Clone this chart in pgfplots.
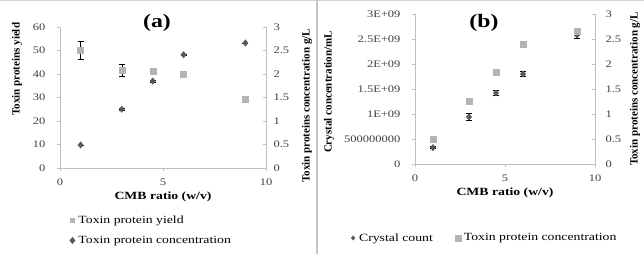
\documentclass[border=0pt]{standalone}
\usepackage{pgfplots}
\pgfplotsset{compat=1.18}
\usepackage{fontspec}
\setmainfont{Liberation Serif}[FakeStretch=1.25]
\newfontfamily\rotfont{Liberation Serif}
\definecolor{sqgray}{HTML}{B4B4B4}
\definecolor{dkgray}{HTML}{595959}
\definecolor{axgray}{HTML}{BFBFBF}
\begin{document}
\begin{tikzpicture}
\path[use as bounding box] (0pt,0pt) rectangle (644pt,254pt);
\draw[gray!35, line width=1pt] (0pt,253pt) -- (644pt,253pt);
\draw[gray!45, line width=2pt] (317pt,0pt) -- (317pt,254pt);
\pgfplotsset{
  common/.style={scale only axis, xmin=0, xmax=10, xtick={0,5,10},
    axis line style={draw=axgray,-}, tick style={draw=axgray},
    major tick length=3pt,
    tick label style={font=\fontsize{10}{12}\selectfont, text=black!75},
    /pgf/number format/assume math mode=true, clip=false,
    label style={font=\bfseries\fontsize{11}{13}\selectfont},
    legend image code/.code={\path[draw=none, fill=none] (0cm,-0.05cm) rectangle (0.32cm,0.05cm);
      \draw[mark repeat=2,mark phase=2] plot coordinates {(0cm,0cm) (0.18cm,0cm) (0.36cm,0cm)};},
    legend style={draw=none, fill=none, font=\fontsize{11}{13}\selectfont, legend cell align=left},
  },
  sq/.style={only marks, mark=square*, color=sqgray, mark size=3pt},
  dk/.style={only marks, mark=diamond*, color=dkgray, mark size=3.2pt, mark options={xscale=1.1}},
  eb/.style={error bars/.cd, y dir=both, y explicit,
    error bar style={black, line width=0.5pt},
    error mark options={black, rotate=90, mark size=3pt, line width=0.5pt}},
}
% ---------------- Panel (a) ----------------
\begin{axis}[common, at={(60pt,86pt)}, anchor=south west, width=206pt, height=141pt,
  ymin=0, ymax=60, ytick={0,10,...,60},
  axis x line*=bottom, axis y line*=left, tick align=outside,
  xlabel={CMB ratio (w/v)}, xlabel style={at={(rel axis cs:0.5,-0.206)}, anchor=center},
  ylabel={\rotfont\bfseries Toxin proteins yield},
  ylabel style={at={(rel axis cs:-0.209,0.70)}, anchor=center},
  xticklabel style={yshift=-4pt}, yticklabel style={xshift=-8pt}]
\addplot[sq, eb] table[x=x, y=y, y error=e] {
x y e
1 50.0 3.9
3 41.5 2.5
4.5 41.0 0
6 40.0 0
9 29.4 0
};
\end{axis}
\begin{axis}[common, at={(60pt,86pt)}, anchor=south west, width=206pt, height=141pt,
  ymin=0, ymax=3, ytick={0,0.5,...,3}, yticklabels={0,0.5,1,1.5,2,2.5,3},
  axis x line=none, axis y line*=right, tick align=inside,
  ylabel={\rotfont\bfseries Toxin proteins concentration g/L},
  ylabel style={at={(rel axis cs:1.199,0.44)}, anchor=center},
  yticklabel style={xshift=4pt},
  legend style={at={(rel axis cs:0.02,-0.31)}, anchor=north west, row sep=7pt}]
\addlegendimage{sq, mark size=2pt}
\addlegendentry{Toxin protein yield}
\addplot[dk, eb] table[x=x, y=y, y error=e] {
x y e
1 0.49 0
3 1.25 0.03
4.5 1.85 0.02
6 2.41 0.02
9 2.66 0
};
\addlegendentry{Toxin protein concentration}
\end{axis}
% ---------------- Panel (b) ----------------
\begin{axis}[common, at={(415pt,90pt)}, anchor=south west, width=180pt, height=150pt,
  ymin=0, ymax=3e9, ytick={0,5e8,1e9,1.5e9,2e9,2.5e9,3e9},
  yticklabels={0,500000000,1E+09,1.5E+09,2E+09,2.5E+09,3E+09}, scaled y ticks=false,
  axis x line*=bottom, axis y line*=left, tick align=outside,
  xlabel={CMB ratio (w/v)}, xlabel style={at={(rel axis cs:0.5,-0.193)}, anchor=center},
  ylabel={\rotfont\bfseries Crystal concentration/mL},
  ylabel style={at={(rel axis cs:-0.478,0.48)}, anchor=center},
  xticklabel style={yshift=-4pt}, yticklabel style={xshift=-8pt}]
\addplot[dk, eb] table[x=x, y=y, y error=e] {
x y e
1 3.27e8 2e7
3 9.4e8 7e7
4.5 1.42e9 5e7
6 1.80e9 5e7
9 2.58e9 6e7
};
\end{axis}
\begin{axis}[common, at={(415pt,90pt)}, anchor=south west, width=180pt, height=150pt,
  ymin=0, ymax=3, ytick={0,0.5,...,3}, yticklabels={0,0.5,1,1.5,2,2.5,3},
  axis x line=none, axis y line*=right, tick align=inside,
  ylabel={\rotfont\bfseries Toxin proteins concentration g/L},
  ylabel style={at={(rel axis cs:1.222,0.5)}, anchor=center},
  yticklabel style={xshift=7pt},
  legend columns=2,
  legend style={at={(rel axis cs:-0.39,-0.493)}, anchor=west,
    /tikz/every even column/.append style={column sep=18pt}}]
\addlegendimage{dk, mark size=2.2pt}
\addlegendentry{Crystal count}
\addplot[sq] table[x=x, y=y] {
x y
1 0.495
3 1.25
4.5 1.84
6 2.40
9 2.65
};
\addlegendentry{Toxin protein concentration}
\end{axis}
\node[font=\bfseries\fontsize{19}{21}\selectfont] at (157pt,231pt) {(a)};
\node[font=\bfseries\fontsize{19}{21}\selectfont] at (484pt,231pt) {(b)};
\end{tikzpicture}
\end{document}
